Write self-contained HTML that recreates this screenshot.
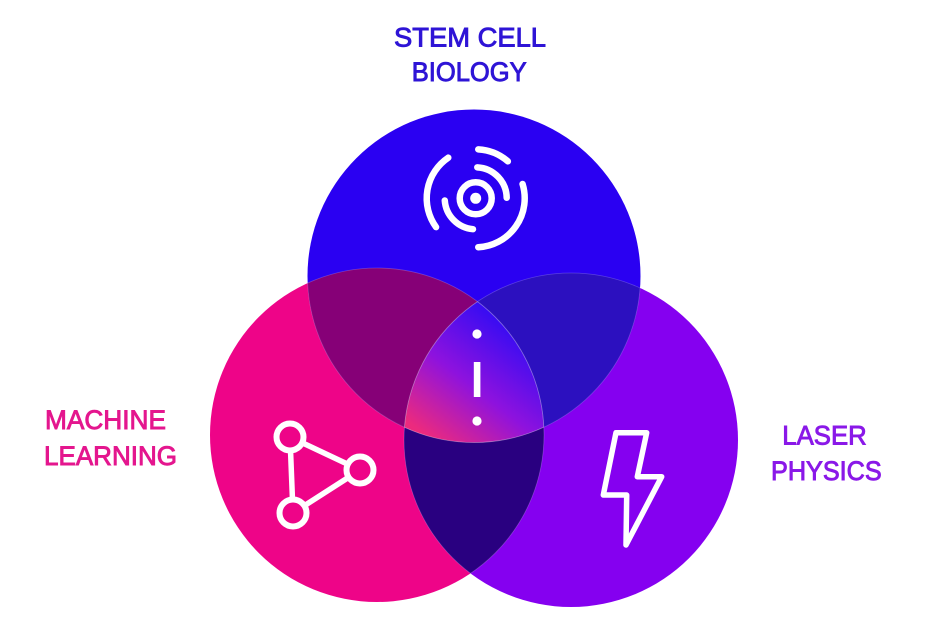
<!DOCTYPE html>
<html>
<head>
<meta charset="utf-8">
<style>
  html, body { margin: 0; padding: 0; background: #ffffff; }
  body { width: 928px; height: 643px; overflow: hidden; }
  svg { display: block; }
  text { font-family: "Liberation Sans", sans-serif; font-size: 27px; }
</style>
</head>
<body>
<svg width="928" height="643" viewBox="0 0 928 643" xmlns="http://www.w3.org/2000/svg">
  <defs>
    <clipPath id="cBlue"><circle cx="474" cy="276" r="166.5"/></clipPath>
    <clipPath id="cPink"><circle cx="377" cy="435" r="167"/></clipPath>
    <clipPath id="cPurple"><circle cx="571" cy="440" r="167"/></clipPath>
    <linearGradient id="gCenter" gradientUnits="userSpaceOnUse" x1="412" y1="425" x2="495" y2="318">
      <stop offset="0" stop-color="#EC2A7E"/>
      <stop offset="0.5" stop-color="#8E12DE"/>
      <stop offset="1" stop-color="#3A0CF2"/>
    </linearGradient>
  </defs>

  <rect width="928" height="643" fill="#ffffff"/>

  <!-- base circles -->
  <circle cx="377" cy="435" r="167" fill="#EE0488"/>
  <circle cx="571" cy="440" r="167" fill="#8500F0"/>
  <circle cx="474" cy="276" r="166.5" fill="#2A00F2"/>

  <!-- pairwise overlaps -->
  <g clip-path="url(#cBlue)">
    <circle cx="377" cy="435" r="167" fill="#860077"/>
    <circle cx="571" cy="440" r="167" fill="#2C10BF"/>
  </g>
  <g clip-path="url(#cPink)">
    <circle cx="571" cy="440" r="167" fill="#290080"/>
  </g>
  <!-- triple overlap -->
  <g clip-path="url(#cBlue)">
    <g clip-path="url(#cPink)">
      <circle cx="571" cy="440" r="167" fill="url(#gCenter)"/>
    </g>
  </g>

  <!-- faint edge lines inside overlaps -->
  <g fill="none" stroke="#ffffff" stroke-opacity="0.22" stroke-width="0.8">
    <circle cx="474" cy="276" r="166.5" clip-path="url(#cPink)"/>
    <circle cx="474" cy="276" r="166.5" clip-path="url(#cPurple)"/>
    <circle cx="377" cy="435" r="167" clip-path="url(#cBlue)"/>
    <circle cx="377" cy="435" r="167" clip-path="url(#cPurple)"/>
    <circle cx="571" cy="440" r="167" clip-path="url(#cBlue)"/>
    <circle cx="571" cy="440" r="167" clip-path="url(#cPink)"/>
  </g>

  <!-- stem cell icon -->
  <g fill="none" stroke="#ffffff" stroke-width="6.5" stroke-linecap="round">
    <path d="M436.06 227.10 A49 49 0 0 1 448.30 157.68"/>
    <path d="M478.26 149.37 A49 49 0 0 1 507.85 161.32"/>
    <path d="M522.56 183.97 A49 49 0 0 1 478.26 247.23"/>
    <path d="M473.00 229.18 A31 31 0 0 1 444.77 200.46"/>
    <path d="M477.32 167.34 A31 31 0 0 1 506.69 197.76"/>
    <circle cx="475.7" cy="198.3" r="16"/>
  </g>
  <circle cx="475.7" cy="198.3" r="5.5" fill="#ffffff"/>

  <!-- exclamation -->
  <circle cx="477" cy="334" r="4.6" fill="#ffffff"/>
  <rect x="473.8" y="362" width="6.6" height="35" fill="#ffffff"/>
  <circle cx="477" cy="421" r="4.6" fill="#ffffff"/>

  <!-- network icon -->
  <g stroke="#ffffff" stroke-width="5.5" stroke-linecap="round">
    <line x1="290" y1="437" x2="360" y2="470"/>
    <line x1="290" y1="437" x2="293" y2="513"/>
    <line x1="293" y1="513" x2="360" y2="470"/>
  </g>
  <g fill="#EE0488" stroke="#ffffff" stroke-width="6">
    <circle cx="290" cy="437" r="13.5"/>
    <circle cx="360" cy="470" r="13.5"/>
    <circle cx="293" cy="513" r="13.5"/>
  </g>

  <!-- lightning bolt -->
  <polygon points="616,432.7 646.7,432.7 637.3,476.7 661.7,476.7 626,545 626.7,495 603.3,495"
           fill="none" stroke="#ffffff" stroke-width="5.5" stroke-linejoin="round"/>

  <!-- labels -->
  <g fill="#2E14D6" stroke="#2E14D6" stroke-width="0.9">
    <text x="394" y="46.7" textLength="152" lengthAdjust="spacingAndGlyphs">STEM CELL</text>
    <text x="411.7" y="81" textLength="115" lengthAdjust="spacingAndGlyphs">BIOLOGY</text>
  </g>
  <g fill="#E4168E" stroke="#E4168E" stroke-width="0.9">
    <text x="45" y="429" textLength="121" lengthAdjust="spacingAndGlyphs">MACHINE</text>
    <text x="44" y="465" textLength="133" lengthAdjust="spacingAndGlyphs">LEARNING</text>
  </g>
  <g fill="#8A18E8" stroke="#8A18E8" stroke-width="0.9">
    <text x="782.3" y="444.3" textLength="84.4" lengthAdjust="spacingAndGlyphs">LASER</text>
    <text x="771" y="480" textLength="110.7" lengthAdjust="spacingAndGlyphs">PHYSICS</text>
  </g>
</svg>
</body>
</html>
